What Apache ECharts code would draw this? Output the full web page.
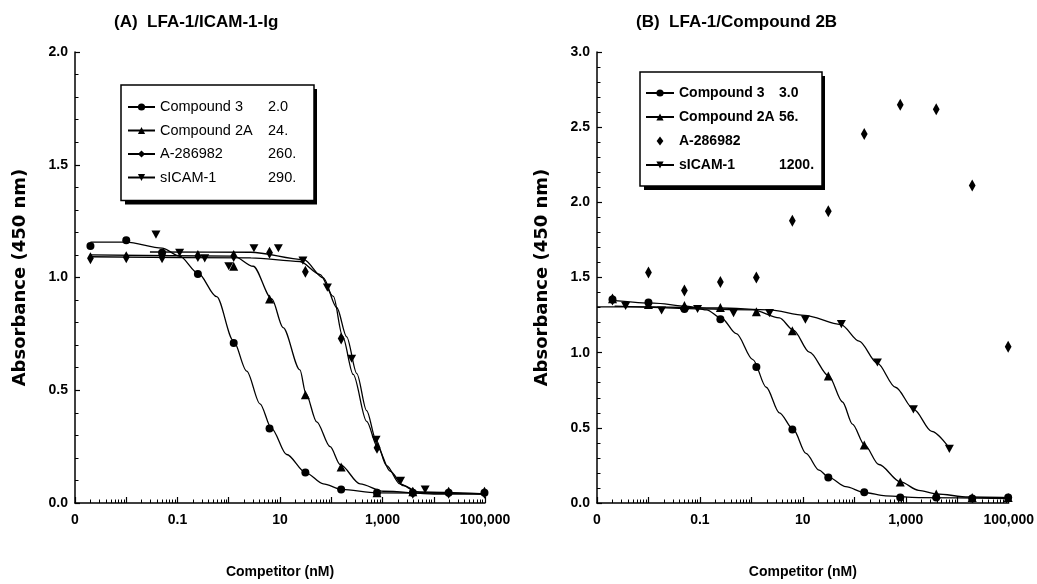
<!DOCTYPE html>
<html>
<head>
<meta charset="utf-8">
<script src="https://cdn.jsdelivr.net/npm/echarts@6/dist/echarts.min.js"></script>
<style>
  html, body { margin: 0; background: #fff; }
  #chart { width: 1037px; height: 584px; }
</style>
</head>
<body>
<div id="chart"></div>
<script>
// concentrations (nM), 5-fold dilution series
const conc5 = [0.002, 0.01, 0.05, 0.25, 1.25, 6.25, 31.25, 156, 781, 3906, 19531, 97656];

// --- panel A: LFA-1/ICAM-1-Ig ---
const aCmp3 = [1.14, 1.165, 1.11, 1.015, 0.71, 0.33, 0.135, 0.06, 0.045, 0.045, 0.045, 0.045];
const aCmp2AConc = [1.25, 6.25, 31.25, 156, 781, 3906];
const aCmp2A = [1.05, 0.905, 0.48, 0.16, 0.045, 0.05];
const aA286 = [1.085, 1.09, 1.09, 1.095, 1.095, 1.11, 1.025, 0.73, 0.245, 0.045, 0.045, 0.045];
const aSicamConc = [0.038, 0.11, 0.34, 1.0, 3.1, 9.3, 28, 84, 250, 750, 2250, 6800];
const aSicam = [1.19, 1.11, 1.085, 1.05, 1.13, 1.13, 1.075, 0.955, 0.64, 0.28, 0.098, 0.06];

// fitted curves
const aCmp3Curve = [[0.002, 1.157], [0.01, 1.157], [0.05, 1.13], [0.11, 1.095], [0.25, 1.02], [0.58, 0.915],
  [1.23, 0.72], [2.24, 0.585], [4.07, 0.44], [6.87, 0.33], [13.5, 0.215], [32, 0.134], [70, 0.085],
  [160, 0.06], [770, 0.045], [100000, 0.042]];
const aCmp2ACurve = [[0.002, 1.1], [1.25, 1.095], [3, 1.05], [6.9, 0.905], [11.5, 0.778], [24.5, 0.59],
  [32, 0.485], [52, 0.36], [95, 0.25], [150, 0.17], [365, 0.085], [1040, 0.052], [10000, 0.04], [100000, 0.04]];
const aA286Curve = [[0.002, 1.092], [2.7, 1.087], [24.5, 1.071], [60, 1.014], [110, 0.916], [166, 0.74],
  [268, 0.57], [490, 0.362], [800, 0.248], [1400, 0.142], [2530, 0.077], [5350, 0.047], [100000, 0.04]];
const aSicamCurve = [[0.029, 1.113], [2.7, 1.112], [29, 1.079], [70, 0.998], [128, 0.867], [200, 0.737],
  [315, 0.574], [490, 0.41], [745, 0.28], [1200, 0.166], [2180, 0.085], [4650, 0.049], [100000, 0.04]];

// --- panel B: LFA-1/Compound 2B ---
const bCmp3 = [1.353, 1.334, 1.29, 1.223, 0.905, 0.489, 0.17, 0.072, 0.036, 0.036, 0.03, 0.036];
const bCmp2A = [1.358, 1.32, 1.314, 1.3, 1.272, 1.145, 0.844, 0.386, 0.14, 0.06, 0.036, 0.036];
const bA286 = [1.353, 1.534, 1.414, 1.47, 1.5, 1.877, 1.94, 2.455, 2.649, 2.62, 2.112, 1.04];
const bSicamConc = [0.0036, 0.018, 0.09, 0.45, 2.25, 11.2, 56, 281, 1406, 7031];
const bSicam = [1.31, 1.28, 1.29, 1.263, 1.263, 1.22, 1.19, 0.935, 0.623, 0.36];

const bCmp3Curve = [[0.0022, 1.346], [0.0126, 1.329], [0.055, 1.309], [0.134, 1.285], [0.263, 1.229],
  [0.51, 1.126], [1.07, 0.954], [1.94, 0.77], [3.5, 0.6], [6.55, 0.489], [11.5, 0.33], [20.6, 0.219],
  [32, 0.17], [68, 0.109], [158, 0.07], [405, 0.048], [1780, 0.036], [100000, 0.03]];
const bCmp2ACurve = [[0.0022, 1.309], [1.07, 1.285], [3.5, 1.231], [6.55, 1.15], [13.4, 1.003], [32, 0.844],
  [59, 0.672], [92, 0.525], [158, 0.386], [300, 0.256], [790, 0.14], [1780, 0.084], [3970, 0.06],
  [16600, 0.04], [100000, 0.036]];
const bSicamCurve = [[0.001, 1.304], [0.0126, 1.304], [0.245, 1.297], [2.24, 1.285], [10.8, 1.248],
  [55, 1.187], [124, 1.077], [279, 0.93], [630, 0.77], [1430, 0.623], [3200, 0.477], [7000, 0.366]];

// legend rows: label, IC50
const legendA = [['Compound 3', '2.0'], ['Compound 2A', '24.'], ['A-286982', '260.'], ['sICAM-1', '290.']];
const legendB = [['Compound 3', '3.0'], ['Compound 2A', '56.'], ['A-286982', ''], ['sICAM-1', '1200.']];

// axis ticks
const xLabelValues = [0.001, 0.1, 10, 1000, 100000];
const decades = [0.001, 0.01, 0.1, 1, 10, 100, 1000, 10000, 100000];

const SANS = '"Liberation Sans", Arial, Helvetica, sans-serif';
const WIDE = '"DejaVu Sans", "Liberation Sans", sans-serif';
const INK = '#000';
const DOWN_TRI = 'path://M0,0L10,0L5,9Z';
const TALL_DIAMOND = 'path://M4.5,0L9,6L4.5,12L0,6Z';

const minorTicks = [];
decades.slice(0, -1).forEach(d => { for (let k = 2; k <= 9; k++) minorTicks.push(+(d * k).toPrecision(6)); });

const pairs = (xs, ys) => xs.map((x, i) => [x, ys[i]]);
const fmtX = v => (v < 0.01 ? '0' : v.toLocaleString('en-US', { maximumFractionDigits: 3 }));

function mainX(grid) {
  return {
    type: 'log', logBase: 10, gridIndex: grid, min: 0.001, max: 100000, position: 'bottom',
    name: 'Competitor (nM)', nameLocation: 'middle', nameGap: 62,
    nameTextStyle: { fontFamily: SANS, fontWeight: 'bold', fontSize: 14, color: '#000' },
    axisLine: { show: true, lineStyle: { color: '#000', width: 1.5 } },
    axisTick: { show: true, inside: true, length: 6, customValues: decades, lineStyle: { color: '#000', width: 1.2 } },
    minorTick: { show: false },
    splitLine: { show: false },
    axisLabel: {
      customValues: xLabelValues, formatter: fmtX, margin: 10, color: '#000',
      fontFamily: SANS, fontWeight: 'bold', fontSize: 14
    }
  };
}
function minorX(grid) {
  return {
    type: 'log', logBase: 10, gridIndex: grid, min: 0.001, max: 100000, position: 'bottom',
    axisLine: { show: false },
    axisTick: { show: true, inside: true, length: 3.5, customValues: minorTicks, lineStyle: { color: '#000', width: 1 } },
    axisLabel: { show: false },
    splitLine: { show: false }
  };
}
function yAx(grid, max) {
  return {
    type: 'value', gridIndex: grid, min: 0, max: max, interval: 0.5,
    name: 'Absorbance (450 nm)', nameLocation: 'middle', nameGap: 46, nameRotate: 90,
    nameTextStyle: { fontFamily: WIDE, fontWeight: 'bold', fontSize: 18, color: '#000' },
    axisLine: { show: true, lineStyle: { color: '#000', width: 1.5 } },
    axisTick: { show: true, inside: true, length: 5, lineStyle: { color: '#000', width: 1.2 } },
    minorTick: { show: true, splitNumber: 5, length: 3.5, lineStyle: { color: '#000', width: 1 } },
    splitLine: { show: false },
    axisLabel: {
      formatter: v => v.toFixed(1), margin: 7, color: '#000',
      fontFamily: SANS, fontWeight: 'bold', fontSize: 14
    }
  };
}

function curve(name, xi, yi, data, symbol) {
  return {
    type: 'line', name, xAxisIndex: xi, yAxisIndex: yi, data,
    smooth: 0.3, smoothMonotone: 'x', showSymbol: false, symbol, symbolSize: 8,
    lineStyle: { color: INK, width: 1.3 }, itemStyle: { color: INK },
    silent: true, z: 2
  };
}
function marks(name, xi, yi, data, symbol, size) {
  return {
    type: 'scatter', name, xAxisIndex: xi, yAxisIndex: yi, data,
    symbol, symbolSize: size, symbolKeepAspect: true,
    itemStyle: { color: INK, opacity: 1 }, silent: true, z: 3
  };
}

const nm = (p, rows, i) => p + ': ' + rows[i][0];

const series = [
  // panel A (x axis 0, y axis 0)
  curve(nm('A', legendA, 0), 0, 0, aCmp3Curve, 'circle'),
  curve(nm('A', legendA, 1), 0, 0, aCmp2ACurve, 'triangle'),
  curve(nm('A', legendA, 2), 0, 0, aA286Curve, 'diamond'),
  curve(nm('A', legendA, 3), 0, 0, aSicamCurve, DOWN_TRI),
  marks(nm('A', legendA, 0), 0, 0, pairs(conc5, aCmp3), 'circle', 8),
  marks(nm('A', legendA, 1), 0, 0, pairs(aCmp2AConc, aCmp2A), 'triangle', 9),
  marks(nm('A', legendA, 2), 0, 0, pairs(conc5, aA286), TALL_DIAMOND, [9, 12]),
  marks(nm('A', legendA, 3), 0, 0, pairs(aSicamConc, aSicam), DOWN_TRI, 9),
  // panel B (x axis 2, y axis 1)
  curve(nm('B', legendB, 0), 2, 1, bCmp3Curve, 'circle'),
  curve(nm('B', legendB, 1), 2, 1, bCmp2ACurve, 'triangle'),
  curve(nm('B', legendB, 3), 2, 1, bSicamCurve, DOWN_TRI),
  marks(nm('B', legendB, 0), 2, 1, pairs(conc5, bCmp3), 'circle', 8),
  marks(nm('B', legendB, 1), 2, 1, pairs(conc5, bCmp2A), 'triangle', 9),
  marks(nm('B', legendB, 2), 2, 1, pairs(conc5, bA286), TALL_DIAMOND, [9, 12]),
  marks(nm('B', legendB, 3), 2, 1, pairs(bSicamConc, bSicam), DOWN_TRI, 9)
];

// legend boxes: outline + content; the hard drop shadow is a plain rect behind
const boxA = { left: 121, top: 85, padding: [13, 6, 14, 6], iconW: 27, gap: 5.5, nameW: 108 };
const boxB = { left: 640, top: 72, padding: [12, 3, 12, 5], iconW: 28, gap: 6, nameW: 100 };
const boxW = b => b.padding[3] + b.iconW + 5 + b.nameW + 40 + b.padding[1];
const boxH = b => b.padding[0] + 4 * 18 + 3 * b.gap + b.padding[2];

function legendBox(p, rows, pos, font) {
  const lookup = {};
  rows.forEach(r => { lookup[p + ': ' + r[0]] = r; });
  return {
    data: rows.map(r => p + ': ' + r[0]),
    orient: 'vertical', left: pos.left, top: pos.top, padding: pos.padding,
    itemWidth: pos.iconW, itemHeight: 9, itemGap: pos.gap,
    selectedMode: false, z: 5,
    backgroundColor: '#fff', borderColor: '#000', borderWidth: 1.5, borderRadius: 0,
    textStyle: {
      color: '#000', fontFamily: font.family, fontWeight: font.weight, fontSize: font.size, lineHeight: 18,
      rich: {
        n: { width: pos.nameW, fontFamily: font.family, fontWeight: font.weight, fontSize: font.size, color: '#000' },
        v: { width: 40, fontFamily: font.family, fontWeight: font.weight, fontSize: font.size, color: '#000' }
      }
    },
    formatter: name => `{n|${lookup[name][0]}}{v|${lookup[name][1]}}`
  };
}
const shadow = b => ({
  type: 'rect', z: 4, silent: true,
  shape: { x: b.left + 4, y: b.top + 4, width: boxW(b), height: boxH(b) },
  style: { fill: '#000' }
});

const chart = echarts.init(document.getElementById('chart'));
chart.setOption({
  backgroundColor: '#fff',
  animation: false,
  title: [
    { text: '(A)  LFA-1/ICAM-1-Ig', left: 109, top: 9,
      textStyle: { fontFamily: SANS, fontWeight: 'bold', fontSize: 17, color: '#000' } },
    { text: '(B)  LFA-1/Compound 2B', left: 631, top: 9,
      textStyle: { fontFamily: SANS, fontWeight: 'bold', fontSize: 17, color: '#000' } }
  ],
  grid: [
    { left: 75, top: 52, width: 410, height: 455 },
    { left: 597, top: 52, width: 413, height: 455 }
  ],
  xAxis: [mainX(0), minorX(0), mainX(1), minorX(1)],
  yAxis: [yAx(0, 2), yAx(1, 3)],
  legend: [
    legendBox('A', legendA, boxA, { family: SANS, weight: 'normal', size: 14.5 }),
    legendBox('B', legendB, boxB, { family: SANS, weight: 'bold', size: 14 })
  ],
  graphic: [shadow(boxA), shadow(boxB)],
  series
});
</script>
</body>
</html>
